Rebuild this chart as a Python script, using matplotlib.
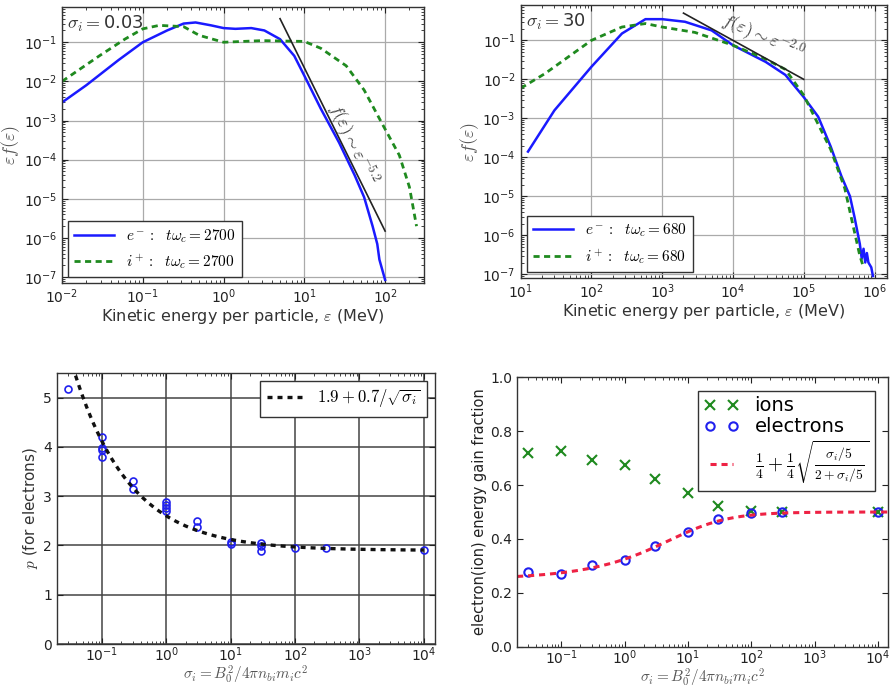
import numpy as np
import matplotlib
matplotlib.use('Agg')
from matplotlib import pyplot as plt
from matplotlib.font_manager import FontProperties

plt.rcParams['font.family'] = ['DejaVu Sans']
plt.rcParams['xtick.direction'] = 'in'
plt.rcParams['ytick.direction'] = 'in'
plt.rcParams['xtick.top'] = True
plt.rcParams['ytick.right'] = True
plt.rcParams['xtick.major.size'] = 4
plt.rcParams['ytick.major.size'] = 4
plt.rcParams['xtick.minor.size'] = 2
plt.rcParams['ytick.minor.size'] = 2
plt.rcParams['xtick.labelsize'] = 10
plt.rcParams['ytick.labelsize'] = 10
plt.rcParams['xtick.major.pad'] = 3
plt.rcParams['axes.linewidth'] = 1.0

# spectra, sigma_i = 0.03
tl_e_x = [0.01, 0.02, 0.05, 0.1, 0.2, 0.32, 0.45, 0.7, 1.0, 1.4, 2.2, 3.2, 5, 7.5, 10, 16, 27, 42, 55, 70, 80, 85, 100]
tl_e_y = [2.9e-3, 8e-3, 3.5e-2, 0.1, 0.2, 0.3, 0.32, 0.27, 0.23, 0.22, 0.23, 0.2, 0.12, 0.045, 0.014, 2e-3,
          2.7e-4, 4e-5, 1.1e-5, 2e-6, 7e-7, 2.8e-7, 8.5e-8]
tl_i_x = [0.01, 0.029, 0.06, 0.1, 0.16, 0.32, 0.5, 1.0, 3.0, 10, 16, 33, 55, 90, 150, 200, 245]
tl_i_y = [0.01, 0.045, 0.12, 0.22, 0.27, 0.25, 0.15, 0.1, 0.11, 0.105, 0.07, 0.025, 6e-3, 9e-4, 1.3e-4, 2e-5, 2e-6]
tl_fit_x = [5, 100]
tl_fit_y = [0.4, 1.5e-6]

# spectra, sigma_i = 30
tr_e_x = [12.7, 30, 100, 270, 580, 1000, 2100, 5000, 1e4, 2.9e4, 5.5e4, 1e5, 1.6e5, 2.4e5, 3.4e5, 4.5e5,
          5.2e5, 6.2e5, 6.6e5, 7e5, 7.4e5, 7.8e5, 8.2e5, 9e5, 9.5e5]
tr_e_y = [1.4e-4, 1.6e-3, 0.021, 0.15, 0.35, 0.35, 0.3, 0.18, 0.075, 0.028, 0.013, 3.5e-3, 1.1e-3, 1.9e-4,
          3.3e-5, 1e-5, 3e-6, 6e-7, 2.5e-7, 4.5e-7, 2e-7, 3.5e-7, 2e-7, 1.5e-7, 9e-8]
tr_i_x = [10, 22, 100, 270, 580, 1000, 2900, 1e4, 2.9e4, 5.5e4, 1e5, 2.4e5, 3.8e5, 5e5, 6.2e5, 7e5]
tr_i_y = [5.9e-3, 0.014, 0.1, 0.22, 0.27, 0.22, 0.16, 0.075, 0.033, 0.018, 3.9e-3, 1.6e-4, 1.6e-5, 1.7e-6,
          3e-7, 1.5e-7]
tr_fit_x = [2e3, 1e5]
tr_fit_y = [0.5, 0.01]

# power-law index p vs sigma
sig_p = [0.03, 0.03, 0.1, 0.1, 0.1, 0.1, 0.3, 0.3, 1, 1, 1, 1, 3, 3, 10, 10, 30, 30, 30, 100, 300, 1e4]
p_e = [5.18, 5.6, 4.21, 3.98, 3.93, 3.79, 3.30, 3.14, 2.89, 2.83, 2.76, 2.69, 2.49, 2.38, 2.08, 2.03,
       2.05, 1.98, 1.88, 1.94, 1.94, 1.91]
p_a, p_b = 1.9, 0.7

# energy gain fraction vs sigma
sig_f = [0.03, 0.1, 0.3, 1, 3, 10, 30, 100, 300, 1e4]
f_ion = [0.717, 0.727, 0.693, 0.675, 0.622, 0.569, 0.523, 0.505, 0.5, 0.5]
f_ele = [0.279, 0.27, 0.304, 0.322, 0.374, 0.427, 0.473, 0.495, 0.5, 0.5]

cm = FontProperties(family='DejaVu Sans', size=11, math_fontfamily='cm')
cm13 = FontProperties(family='DejaVu Sans', size=13, math_fontfamily='cm')
fig = plt.figure(figsize=(8.9, 6.89), dpi=100)

ax1 = fig.add_axes([0.0697, 0.589, 0.4063, 0.401])
ax2 = fig.add_axes([0.585, 0.5965, 0.4116, 0.396])
ax3 = fig.add_axes([0.064, 0.0653, 0.425, 0.3933])
ax4 = fig.add_axes([0.581, 0.061, 0.417, 0.3918])

xl = 'Kinetic energy per particle, $\\varepsilon$ (MeV)'
for ax, ex, ey, ix, iy, fx, fy, t, sig, lim in [
        (ax1, tl_e_x, tl_e_y, tl_i_x, tl_i_y, tl_fit_x, tl_fit_y, '2700', '0.03', (1e-2, 3e2)),
        (ax2, tr_e_x, tr_e_y, tr_i_x, tr_i_y, tr_fit_x, tr_fit_y, '680', '30', (1e1, 1.5e6))]:
    ax.loglog(ex, ey, '-', color='#1a1aff', lw=1.8, label=r'$e^-:\ \ t\omega_c=%s$' % t)
    ax.loglog(ix, iy, '--', color='#1f8a1f', lw=2.0, dashes=(2.2, 1.6), label=r'$i^+:\ \ t\omega_c=%s$' % t)
    ax.loglog(fx, fy, '-', color='#222222', lw=1.2)
    ax.set_xlim(*lim)
    ax.grid(True, which='major', color='#aaaaaa', lw=0.9, ls='-')
    ax.set_xlabel(xl, fontproperties=FontProperties(family='DejaVu Sans', size=11.5, math_fontfamily='cm'),
                  color='#333333', labelpad=1)
    ax.set_ylabel(r'$\varepsilon f(\varepsilon)$', fontproperties=cm13, color='#555555', labelpad=1)
    ax.text(0.015, 0.975, r'$\sigma_i=$' + sig, transform=ax.transAxes, va='top', ha='left',
            fontproperties=cm13, color='#333333')
    ax.legend(loc='lower left', prop=cm, fancybox=False, edgecolor='#333333', framealpha=1,
              handlelength=2.6, borderaxespad=0.4)
    ax.set_yticks([1e-7, 1e-6, 1e-5, 1e-4, 1e-3, 1e-2, 1e-1])

ax1.set_ylim(7e-8, 0.8)
ax2.set_ylim(8e-8, 0.8)
ax1.text(40, 2.5e-4, r'$f(\varepsilon)\sim\varepsilon^{-5.2}$', rotation=-64, ha='center', va='center',
         fontproperties=cm13, color='#444444')
ax2.text(2.6e4, 0.12, r'$f(\varepsilon)\sim\varepsilon^{-2.0}$', rotation=-23, ha='center', va='center',
         fontproperties=cm13, color='#444444')

# p vs sigma
ax3.set_xscale('log')
ax3.plot(sig_p, p_e, 'o', mfc='none', mec='#2020ee', ms=5, mew=1.2)
sx = np.logspace(np.log10(0.035), 4, 200)
ax3.plot(sx, p_a + p_b / np.sqrt(sx), '--', color='#111111', lw=2.4, dashes=(1.5, 1.5),
         label=r'$1.9+0.7/\sqrt{\sigma_i}$')
ax3.set_xlim(0.02, 1.5e4)
ax3.set_ylim(0, 5.5)
ax3.set_yticks([0, 1, 2, 3, 4, 5])
ax3.grid(True, which='major', color='#444444', lw=1.1)
ax3.set_ylabel(r'$p$ (for electrons)', fontproperties=cm, color='#333333', labelpad=2)
ax3.set_xlabel(r'$\sigma_i=B_0^2/4\pi n_{bi}m_ic^2$', fontproperties=cm, color='#555555', labelpad=0)
ax3.legend(loc='upper right', prop=FontProperties(size=12, math_fontfamily='cm'), fancybox=False,
           edgecolor='#333333', framealpha=1, handlelength=2.2, borderaxespad=0.5)

# energy gain fraction
ax4.set_xscale('log')
ax4.plot(sig_f, f_ion, 'x', color='#1f8a1f', ms=7, mew=1.5, label='ions')
ax4.plot(sig_f, f_ele, 'o', mfc='none', mec='#2020ee', ms=6, mew=1.5, label='electrons')
s5 = np.logspace(np.log10(0.02), np.log10(1.5e4), 200) / 5
ax4.plot(s5 * 5, 0.25 + 0.25 * np.sqrt(s5 / (2 + s5)), '--', color='#ee2244', lw=2.2, dashes=(2, 1.6),
         label=r'$\frac{1}{4}+\frac{1}{4}\sqrt{\frac{\sigma_i/5}{2+\sigma_i/5}}$')
ax4.set_xlim(0.02, 1.45e4)
ax4.set_ylim(0, 1.0)
ax4.set_yticks([0, 0.2, 0.4, 0.6, 0.8, 1.0])
ax4.set_ylabel('electron(ion) energy gain fraction', fontsize=10.5, color='#222222', labelpad=2)
ax4.set_xlabel(r'$\sigma_i=B_0^2/4\pi n_{bi}m_ic^2$', fontproperties=cm, color='#555555', labelpad=0)
ax4.legend(loc='upper right', prop=FontProperties(size=14, math_fontfamily='cm'), numpoints=2,
           fancybox=False, edgecolor='#333333', framealpha=1, handlelength=1.8, borderaxespad=0.7,
           labelspacing=0.1, borderpad=0.3)

for ax in (ax1, ax2, ax3, ax4):
    for s in ax.spines.values():
        s.set_color('#333333')
    ax.tick_params(colors='#222222', which='both')
for ax in (ax3, ax4):
    ax.tick_params(axis='x', which='both', pad=1)

fig.savefig('out.png', dpi=100)
